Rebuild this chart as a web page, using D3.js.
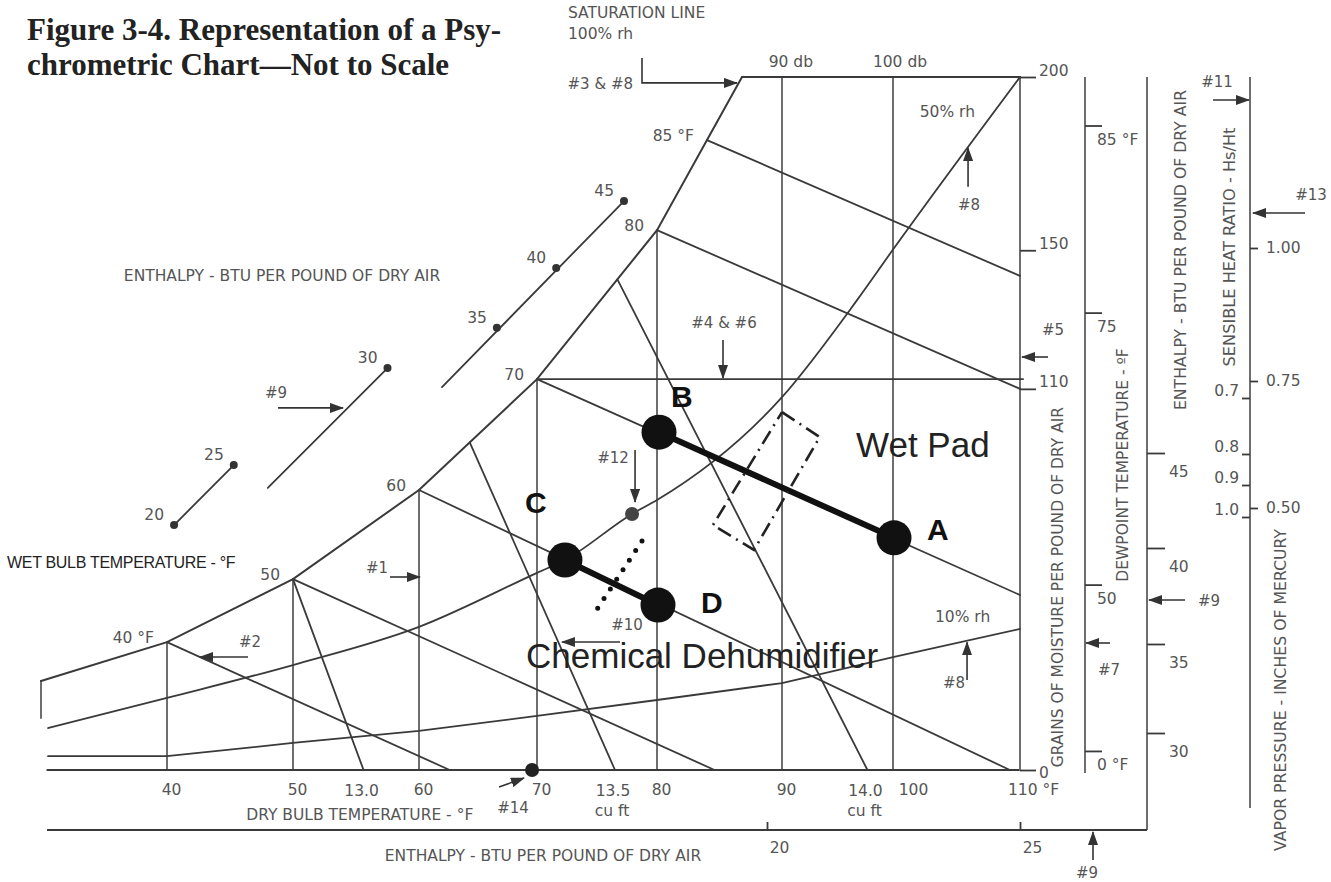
<!DOCTYPE html>
<html><head><meta charset="utf-8">
<script src="https://cdn.jsdelivr.net/npm/d3@7"></script>
<style>body{margin:0;background:#fff}svg{display:block}</style>
</head><body><svg id="c" width="1331" height="882"></svg>
<script>
// ================= DATA =================
const dryBulbTicks = [40, 50, 60, 70, 80, 90, 100, 110];
// saturation curve: [dry bulb °F, grains]
const saturation = [[30,25.7],[40,36.9],[50,55.1],[60,80.8],[70,112.8],[80,155.8],[84,181.8],[86.8,200]];
const leftEdge = [[30,25.7],[30,15.0]];
const wetBulbStart = [40, 50, 60, 70, 80, 84];
const wetBulbLabels = ["40 °F", "50", "60", "70", "80", "85 °F"];
const wetBulbEnd = [[62.6,0],[84.6,0],[109.2,0],[110,50.5],[110,110],[110,142.6]];
const volumeLabels = ["13.0", "13.5", "14.0"];
const volumeUnits = ["", "cu ft", "cu ft"];
const volumeTop = [50, 64.3, 76.7];
const volumeBottom = [55.6, 76.5, 97.7];
const rh50 = [[30.56,12.1],[40,20.8],[50,30.3],[60,41.3],[70,56.9],[72.33,60.6],[77.92,73.9],[80,77.9],[90,107.6],[96.76,135.6],[100,150.2],[110,200]];
const rh10 = [[30.56,4.0],[40,4.0],[50,7.8],[60,11.3],[70,15.6],[80,20.2],[90,25.1],[100,32.6],[110,40.7]];
const grainTicks = [0, 110, 150, 200];
const dewTicks = [0, 50, 75, 85];
const dewLabels = ["0 °F", "50", "75", "85 °F"];
const dewTickGrains = [5.5, 53.5, 132, 186];
const enthalpyRightTicks = [30, 35, 40, 45];
const shrTicks = [0.7, 0.8, 0.9, 1.0];
const vpTicks = [0.50, 0.75, 1.00];
const enthalpyBottomTicks = [20, 25];
// diagonal enthalpy scale (upper left): value, position in chart units
const enthalpyDots = [20, 25, 30, 35, 40, 45];
const enthalpyDotT = [40.56, 45.3, 57.5, 66.6, 71.6, 77.25];
const enthalpyDotW = [70.7, 88.0, 116.0, 127.6, 144.9, 164.2];
const enthalpySegStart = [[40.56,70.7],[48.0,81.4],[61.95,110.5]];
const enthalpySegEnd = [[45.3,88.0],[57.5,116.0],[77.25,164.2]];
// states and processes
const stateIds = ["A", "B", "C", "D"];
const stateT = [100.08, 80.16, 72.33, 80.08];
const stateW = [67.0, 97.5, 60.6, 47.6];
const processes = [["B","A"], ["C","D"]];
const wetPad = [[90,103.3],[93.4,96.1],[87.76,63.5],[84.48,70.7]];
const dottedPath = [[78.75,66.1],[74.83,45.5]];
const point12 = [77.92, 73.9];
const point14 = [69.58, 0];
// annotations in chart units
const notes = [
  {label:"#1", from:[57.7,55.7], to:[60.08,55.7], at:[56.67,56.85]},
  {label:"#2", from:[46.43,32.61], to:[42.62,32.61], at:[46.59,35.5]},
  {label:"#4 & #6", from:[85.28,124.1], to:[85.28,113.1], at:[85.36,127.6]},
  {label:"#8", from:[105.91,168.3], to:[105.91,179.5], at:[105.98,161.6]},
  {label:"#8", from:[105.83,26.0], to:[105.83,36.9], at:[104.8,23.7]},
  {label:"#10", from:[76.92,36.94], to:[72.08,36.94], at:[77.5,40.4]},
  {label:"#12", from:[78.17,92.35], to:[78.17,77.34], at:[76.33,88.6]},
  {label:"#14", from:[66.78,-4.91], to:[68.9,-2.31], at:[67.97,-12.41]},
  {label:"#9", from:[48.81,104.5], to:[53.97,104.5], at:[48.65,107.4]}
];
const note38 = {label:"#3 & #8", path:[[78.75,205.5],[78.75,198.3],[86.4,198.3]], at:[78.0,196.5]};

// ================= LAYOUT =================
const L = {dewX:1085, enthX:1147, shrX:1250, top:77, dewBot:773, enthBot:830, shrBot:808, enthAxisY:830, left:47};
const sideNotes = [
  {label:"#5", from:[1048,357], to:[1022,357], at:[1053,335]},
  {label:"#7", from:[1110,643], to:[1086,643], at:[1109,675]},
  {label:"#9", from:[1185,600], to:[1149,600], at:[1209,606]},
  {label:"#9", from:[1093,860], to:[1093,832], at:[1087,878]},
  {label:"#11", from:[1213,100], to:[1249,100], at:[1217,87]},
  {label:"#13", from:[1305,213], to:[1253,213], at:[1311,200]}
];
const rotLabels = [
  {text:"GRAINS OF MOISTURE PER POUND OF DRY AIR", x:1058, y:587, size:15.5},
  {text:"DEWPOINT TEMPERATURE - ºF", x:1123, y:465, size:15.5},
  {text:"ENTHALPY - BTU PER POUND OF DRY AIR", x:1181, y:250, size:15.7},
  {text:"SENSIBLE HEAT RATIO - Hs/Ht", x:1230, y:247, size:16.2},
  {text:"VAPOR PRESSURE - INCHES OF MERCURY", x:1281, y:690, size:15.7}
];
const stateLabelOffset = {A:[33,2], B:[12,-25], C:[-40,-47], D:[43,8]};

const FONT = "'DejaVu Sans', sans-serif";
const ARIAL = "'Liberation Sans', Arial, sans-serif";
const LINE = "#3a3a3a", VLINE = "#6e6e6e", TXT = "#555";

// ================= SCALES =================
const x = d3.scaleLinear().domain(dryBulbTicks).range([167,293,419,537,657,782,893,1020]);
const y = d3.scaleLinear().domain([0,200]).range([770,77]);
const satScale = d3.scaleLinear().domain(saturation.map(d=>d[0])).range(saturation.map(d=>d[1]));
const satAt = t => Math.min(200, satScale(t));
const line = d3.line().x(d=>x(d[0])).y(d=>y(d[1]));
const smooth = d3.line().x(d=>x(d[0])).y(d=>y(d[1])).curve(d3.curveMonotoneX);

const svg = d3.select("#c");
const defs = svg.append("defs");
defs.append("marker").attr("id","ah").attr("viewBox","0 0 14 10").attr("refX",13).attr("refY",5)
  .attr("markerWidth",14).attr("markerHeight",10).attr("markerUnits","userSpaceOnUse").attr("orient","auto")
  .append("path").attr("d","M0,0L14,5L0,10z").attr("fill","#333");

// ================= TITLE =================
const title = svg.append("g").attr("font-family","'Liberation Serif', serif").attr("font-weight","bold")
  .attr("font-size",31).attr("fill","#222");
title.append("text").attr("x",27).attr("y",40).text("Figure 3-4. Representation of a Psy-");
title.append("text").attr("x",27).attr("y",75).text("chrometric Chart\u2014Not to Scale");

// ================= CHART LINES =================
const g = svg.append("g").attr("fill","none").attr("stroke-linecap","round");
g.selectAll(".db").data(dryBulbTicks.filter(t=>t<110)).join("path")
  .attr("d", t => line([[t,0],[t,satAt(t)]])).attr("stroke",VLINE).attr("stroke-width",2);
g.append("path").attr("d", line([[30.5,0],[110,0]])).attr("stroke",LINE).attr("stroke-width",2);
g.append("path").attr("d", line([[86.8,200],[110,200]])).attr("stroke",LINE).attr("stroke-width",2);
g.append("path").attr("d", line([[110,0],[110,200]])).attr("stroke",VLINE).attr("stroke-width",2);
g.append("path").attr("d", line(leftEdge)).attr("stroke",VLINE).attr("stroke-width",2);
g.append("path").attr("d", line(saturation)).attr("stroke",LINE).attr("stroke-width",2);
g.selectAll(".wb").data(wetBulbStart).join("path")
  .attr("d", (t,i) => line([[t,satAt(t)], wetBulbEnd[i]])).attr("stroke",LINE).attr("stroke-width",1.8);
g.append("path").attr("d", line([[70,satAt(70)],[110.25,satAt(70)]])).attr("stroke",LINE).attr("stroke-width",1.6);
g.selectAll(".vol").data(volumeTop).join("path")
  .attr("d", (t,i) => line([[t,satAt(t)],[volumeBottom[i],0]])).attr("stroke",LINE).attr("stroke-width",1.8);
g.append("path").attr("d", smooth(rh50)).attr("stroke",LINE).attr("stroke-width",1.8);
g.append("path").attr("d", line(rh10)).attr("stroke",LINE).attr("stroke-width",1.8);
g.selectAll(".es").data(enthalpySegStart).join("path")
  .attr("d", (s,i) => line([s, enthalpySegEnd[i]])).attr("stroke",LINE).attr("stroke-width",1.8);
svg.append("g").selectAll("circle").data(enthalpyDots).join("circle")
  .attr("cx",(d,i)=>x(enthalpyDotT[i])).attr("cy",(d,i)=>y(enthalpyDotW[i])).attr("r",4).attr("fill","#333");
svg.append("g").attr("font-family",FONT).attr("font-size",15.5).attr("fill",TXT).attr("text-anchor","end")
  .selectAll("text").data(enthalpyDots).join("text")
  .attr("x",(d,i)=>x(enthalpyDotT[i])-10).attr("y",(d,i)=>y(enthalpyDotW[i])-5).text(d=>d);

// ================= RIGHT SCALES =================
function styleAxis(a){
  a.attr("font-family",FONT).attr("font-size",15.5);
  a.selectAll("line").attr("stroke",LINE).attr("stroke-width",1.8);
  a.selectAll("text").attr("fill",TXT);
}
const ga = svg.append("g").attr("transform",`translate(${x(110)},0)`)
  .call(d3.axisRight(y).tickValues(grainTicks).tickSize(16).tickPadding(3).tickSizeOuter(0));
ga.select(".domain").remove(); styleAxis(ga);
ga.selectAll("text").attr("dy", d => d===0 ? 7 : -2);

const dewScale = d3.scaleLinear().domain(dewTicks).range(dewTickGrains.map(y));
svg.append("line").attr("x1",L.dewX).attr("x2",L.dewX).attr("y1",L.top).attr("y2",L.dewBot).attr("stroke",VLINE).attr("stroke-width",2);
const da = svg.append("g").attr("transform",`translate(${L.dewX},0)`)
  .call(d3.axisRight(dewScale).tickValues(dewTicks).tickFormat((d,i)=>dewLabels[i]).tickSize(17).tickPadding(-5));
da.select(".domain").remove(); styleAxis(da); da.selectAll("text").attr("dy",19);

const enthR = d3.scaleLinear().domain(enthalpyRightTicks).range([733,644,548,453]);
svg.append("line").attr("x1",L.enthX).attr("x2",L.enthX).attr("y1",L.top).attr("y2",L.enthBot).attr("stroke",VLINE).attr("stroke-width",2);
const ea = svg.append("g").attr("transform",`translate(${L.enthX},0)`)
  .call(d3.axisRight(enthR).tickValues(enthalpyRightTicks).tickSize(18).tickPadding(4));
ea.select(".domain").remove(); styleAxis(ea); ea.selectAll("text").attr("dy",23);

svg.append("line").attr("x1",L.shrX).attr("x2",L.shrX).attr("y1",L.top).attr("y2",L.shrBot).attr("stroke",VLINE).attr("stroke-width",2);
const shr = d3.scaleLinear().domain(shrTicks).range([398,454,485,517]);
const sa = svg.append("g").attr("transform",`translate(${L.shrX},0)`)
  .call(d3.axisLeft(shr).tickValues(shrTicks).tickFormat(d3.format(".1f")).tickSize(8).tickPadding(3));
sa.select(".domain").remove(); styleAxis(sa); sa.selectAll("text").attr("dy",-3);
const vp = d3.scaleLinear().domain(vpTicks).range([508,381,248]);
const va = svg.append("g").attr("transform",`translate(${L.shrX},0)`)
  .call(d3.axisRight(vp).tickValues(vpTicks).tickFormat(d3.format(".2f")).tickSize(8).tickPadding(8));
va.select(".domain").remove(); styleAxis(va);

svg.append("line").attr("x1",L.left).attr("x2",L.enthX).attr("y1",L.enthAxisY).attr("y2",L.enthAxisY).attr("stroke",LINE).attr("stroke-width",2);
const eb = d3.scaleLinear().domain(enthalpyBottomTicks).range([767,1020]);
const eba = svg.append("g").attr("transform",`translate(0,${L.enthAxisY})`)
  .call(d3.axisBottom(eb).tickValues(enthalpyBottomTicks).tickFormat(d3.format("d")).tickSize(-8).tickPadding(12));
eba.select(".domain").remove(); styleAxis(eba); eba.selectAll("text").attr("dx",12);

const dba = svg.append("g").attr("transform",`translate(0,${y(0)})`)
  .call(d3.axisBottom(x).tickValues(dryBulbTicks).tickSize(0).tickPadding(14).tickFormat(d => d===110 ? "110 °F" : d));
dba.select(".domain").remove(); styleAxis(dba);
dba.selectAll("text").attr("dx", d => d===110 ? 13 : (d===100 ? 20 : 4));

const vl = svg.append("g").attr("font-family",FONT).attr("font-size",15.5).attr("fill",TXT).attr("text-anchor","middle");
vl.selectAll(".v").data(volumeLabels).join("text").attr("x",(d,i)=>x(volumeBottom[i])-2).attr("y",y(0)+26).text(d=>d);
vl.selectAll(".u").data(volumeUnits).join("text").attr("x",(d,i)=>x(volumeBottom[i])-3).attr("y",y(0)+46).text(d=>d);

svg.append("g").attr("font-family",FONT).attr("font-size",15.5).attr("fill",TXT).attr("text-anchor","end")
  .selectAll("text").data(wetBulbStart).join("text")
  .attr("x",t=>x(t)-13).attr("y",t=>y(satAt(t))+1).text((t,i)=>wetBulbLabels[i]);

// ================= PROCESSES =================
const st = {}; stateIds.forEach((id,i)=>st[id]=[stateT[i],stateW[i]]);
svg.append("g").selectAll("path").data(processes).join("path")
  .attr("d", p => line([st[p[0]], st[p[1]]])).attr("stroke","#111").attr("stroke-width",6).attr("fill","none");
svg.append("path").attr("d", line([...wetPad, wetPad[0]])).attr("fill","none").attr("stroke","#222")
  .attr("stroke-width",2.6).attr("stroke-dasharray","15 6 2 6");
svg.append("path").attr("d", line(dottedPath)).attr("fill","none").attr("stroke","#111")
  .attr("stroke-width",5).attr("stroke-linecap","round").attr("stroke-dasharray","0 11.5");
svg.append("g").selectAll("circle").data(stateIds).join("circle")
  .attr("cx",(d,i)=>x(stateT[i])).attr("cy",(d,i)=>y(stateW[i])).attr("r",17.5).attr("fill","#111");
svg.append("g").attr("font-family",ARIAL).attr("font-weight","bold").attr("font-size",30).attr("fill","#111")
  .selectAll("text").data(stateIds).join("text")
  .attr("x",(d,i)=>x(stateT[i])+stateLabelOffset[d][0]).attr("y",(d,i)=>y(stateW[i])+stateLabelOffset[d][1]).text(d=>d);
svg.append("circle").attr("cx",x(point12[0])).attr("cy",y(point12[1])).attr("r",7).attr("fill","#444");
svg.append("circle").attr("cx",x(point14[0])).attr("cy",y(point14[1])).attr("r",7).attr("fill","#222");

const big = svg.append("g").attr("font-family",ARIAL).attr("font-size",35).attr("fill","#222");
big.append("text").attr("x",x(96.67)).attr("y",y(90.3)).text("Wet Pad");
big.append("text").attr("x",x(69.07)).attr("y",y(29.4)).text("Chemical Dehumidifier");

// ================= ANNOTATIONS =================
const an = svg.append("g");
an.selectAll("path").data(notes).join("path").attr("d", n => line([n.from, n.to]))
  .attr("stroke","#333").attr("stroke-width",1.6).attr("fill","none").attr("marker-end","url(#ah)");
an.selectAll("text").data(notes).join("text").attr("font-family",FONT).attr("font-size",15).attr("fill",TXT)
  .attr("text-anchor","middle").attr("x",n=>x(n.at[0])).attr("y",n=>y(n.at[1])).text(n=>n.label);
svg.append("path").attr("d", line(note38.path)).attr("stroke","#333").attr("stroke-width",1.6).attr("fill","none").attr("marker-end","url(#ah)");
svg.append("text").attr("font-family",FONT).attr("font-size",15).attr("fill",TXT).attr("text-anchor","end")
  .attr("x",x(note38.at[0])).attr("y",y(note38.at[1])).text(note38.label);

const sn = svg.append("g");
sn.selectAll("line").data(sideNotes).join("line")
  .attr("x1",n=>n.from[0]).attr("y1",n=>n.from[1]).attr("x2",n=>n.to[0]).attr("y2",n=>n.to[1])
  .attr("stroke","#333").attr("stroke-width",1.6).attr("marker-end","url(#ah)");
sn.selectAll("text").data(sideNotes).join("text").attr("font-family",FONT).attr("font-size",15).attr("fill",TXT)
  .attr("text-anchor","middle").attr("x",n=>n.at[0]).attr("y",n=>n.at[1]).text(n=>n.label);

const tx = svg.append("g").attr("font-family",FONT).attr("font-size",15.5).attr("fill",TXT);
tx.append("text").attr("x",x(72.58)).attr("y",y(217)).text("SATURATION LINE");
tx.append("text").attr("x",x(72.58)).attr("y",y(211)).text("100% rh");
tx.append("text").attr("x",x(90.8)).attr("y",y(202.9)).attr("text-anchor","middle").text("90 db");
tx.append("text").attr("x",x(100.55)).attr("y",y(202.9)).attr("text-anchor","middle").text("100 db");
tx.append("text").attr("x",x(102.1)).attr("y",y(188.5)).text("50% rh");
tx.append("text").attr("x",x(103.3)).attr("y",y(42.7)).text("10% rh");
tx.append("text").attr("x",x(49.13)).attr("y",y(141.1)).attr("text-anchor","middle").text("ENTHALPY - BTU PER POUND OF DRY AIR");
tx.append("text").attr("x",x(55.3)).attr("y",y(-14.4)).attr("text-anchor","middle").text("DRY BULB TEMPERATURE - °F");
tx.append("text").attr("x",543).attr("y",L.enthAxisY+31).attr("text-anchor","middle").text("ENTHALPY - BTU PER POUND OF DRY AIR");
svg.append("text").attr("font-family",ARIAL).attr("font-size",16).attr("fill","#222").attr("letter-spacing",-0.3)
  .attr("x",x(27.3)).attr("y",y(58.3)).text("WET BULB TEMPERATURE - °F");

svg.append("g").attr("font-family",FONT).attr("fill",TXT)
  .selectAll("text").data(rotLabels).join("text").attr("font-size",d=>d.size)
  .attr("transform",d=>`translate(${d.x},${d.y}) rotate(-90)`).attr("text-anchor","middle")
  .attr("dominant-baseline","middle").text(d=>d.text);
</script></body></html>
